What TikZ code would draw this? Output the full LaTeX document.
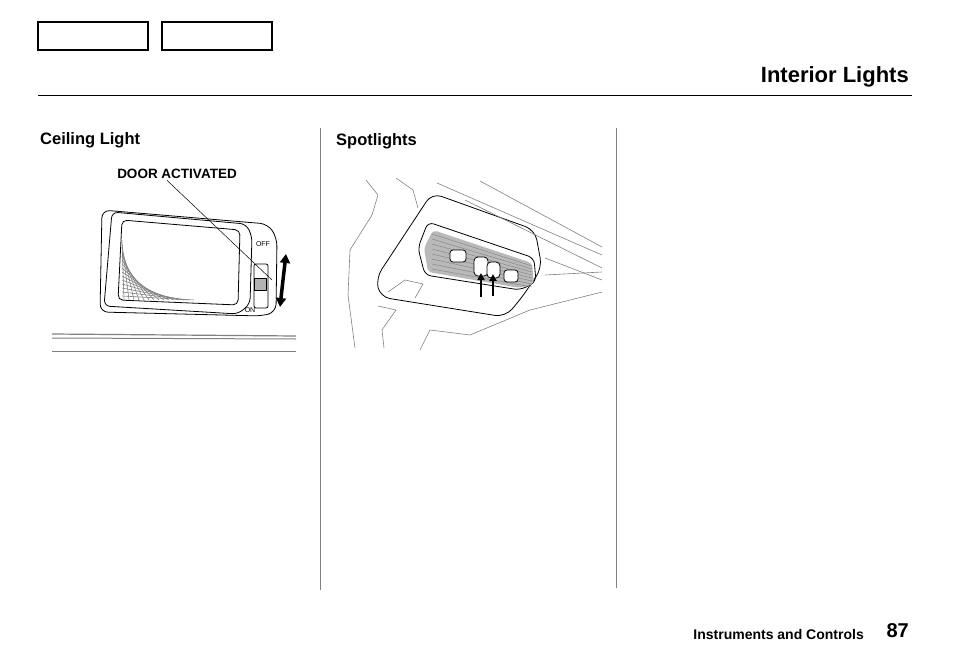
\documentclass[tikz,border=0pt]{standalone}
\usepackage{fontspec}
\setmainfont{Liberation Sans}
\usetikzlibrary{arrows.meta}
\tikzset{
  tab/.style={draw,line width=1.2pt,minimum width=110pt,minimum height=28pt,inner sep=0pt},
  head/.style={anchor=base west,inner sep=0pt,font=\bfseries\fontsize{16.5}{16.5}\selectfont},
  sketch/.style={line width=0.8pt,line join=round},
  faint/.style={gray,line width=0.6pt},
  arr/.style={-{Triangle[length=9pt,width=10pt]},line width=3.5pt}
}
\begin{document}
\begin{tikzpicture}[x=1pt,y=-1pt]
    \useasboundingbox (0,0) rectangle (954,672);
    % page frame
    \node[tab] (tabA) at (93,36) {};
    \node[tab] (tabB) at (217,36) {};
    \node[anchor=base east,inner sep=0pt,font=\bfseries\fontsize{22}{22}\selectfont] (title) at (909,82) {Interior Lights};
    \draw[line width=0.6pt] (38,95) -- (912,95);
    \draw[gray,line width=0.6pt] (320,128) -- (320,590);
    \draw[gray,line width=0.6pt] (616,128) -- (616,588);
    \node[head] (ceil) at (40,144) {Ceiling Light};
    \node[head] (spot) at (336,145) {Spotlights};
    \node[anchor=base east,inner sep=0pt,font=\bfseries\fontsize{14}{14}\selectfont] (sect) at (864,639) {Instruments and Controls};
    \node[anchor=base east,inner sep=0pt,font=\bfseries\fontsize{20}{20}\selectfont] (page) at (909,637) {87};

    % ceiling light
    \node[anchor=base,inner sep=0pt,font=\bfseries\fontsize{13.5}{13.5}\selectfont] (door) at (177,178) {DOOR ACTIVATED};
    \draw[sketch,rounded corners=8pt] (102,210) -- (268,224) -- (277,238) -- (276,312) -- (262,316) -- (100,312) -- cycle;
    \draw[sketch,rounded corners=6pt] (112,212) -- (246,224) -- (252,236) -- (250,304) -- (238,314) -- (104,306) -- cycle;
    \draw[sketch,rounded corners=5pt] (122,220) -- (240,230) -- (238,305) -- (118,300) -- cycle;
    \foreach \i in {0,...,14}
      \draw[faint] (122,240+4*\i) -- (124+5*\i,300);
    \draw[sketch,rounded corners=2pt] (254,264) rectangle (268,308);
    \draw[sketch,fill=gray!60] (254,278) rectangle (266,290);
    \node[font=\fontsize{7}{7}\selectfont] (off) at (263,244) {OFF};
    \node[font=\fontsize{7}{7}\selectfont] (on) at (250,310) {ON};
    \coordinate (lead) at (272,280);
    \draw[line width=0.5pt] (door.south) ++(-10,2) -- (lead);
    \coordinate (armid) at (283,280);
    \draw[arr] (armid) -- ++(3,-26);
    \draw[arr] (armid) -- ++(-3,27);
    \draw[faint,line width=1.2pt] (52,334) -- (296,336);
    \draw[faint,line width=1pt] (52,338) -- (296,339);
    \draw[faint] (52,351) -- (296,351);

    % spotlights
    \draw[sketch,rounded corners=10pt] (432,193) -- (535,230) -- (542,268) -- (520,300) -- (505,317) -- (380,297) -- (376,278) -- cycle;
    \draw[sketch,rounded corners=6pt] (428,222) -- (534,258) -- (536,282) -- (520,290) -- (425,275) -- (418,248) -- cycle;
    \fill[gray!55,rounded corners=4pt] (433,230) -- (532,263) -- (534,284) -- (520,288) -- (428,272) -- (424,248) -- cycle;
    \foreach \i in {0,...,7}
      \draw[gray,line width=0.4pt] (432,234+5*\i) -- (532,266+3*\i);
    \draw[sketch,fill=white,rounded corners=3pt] (450,250) rectangle (466,262);
    \draw[sketch,fill=white,rounded corners=4pt] (474,257) rectangle (488,276);
    \draw[sketch,fill=white,rounded corners=4pt] (487,262) rectangle (500,278);
    \draw[sketch,fill=white,rounded corners=3pt] (504,270) rectangle (518,282);
    \coordinate (sa) at (481,297);
    \coordinate (sb) at (493,296);
    \draw[arr,line width=2pt,-{Triangle[length=7pt,width=7pt]}] (sa) -- ++(0,-24);
    \draw[arr,line width=2pt,-{Triangle[length=7pt,width=7pt]}] (sb) -- ++(0,-22);
    % roof lines
    \draw[faint] (480,181) -- (602,247);
    \draw[faint] (437,183) -- (602,255);
    \draw[faint] (465,200) -- (602,268);
    \draw[faint] (366,180) -- (378,195) -- (372,215) -- (350,250) -- (348,295) -- (355,348);
    \draw[faint] (396,178) -- (413,190) -- (418,208);
    \draw[faint] (378,306) -- (396,310) -- (382,330) -- (384,348);
    \draw[faint] (388,292) -- (405,280) -- (423,284) -- (415,298);
    \draw[faint] (420,350) -- (430,330) -- (470,335) -- (530,310) -- (602,292);
    \draw[faint] (545,275) -- (602,272);
    \draw[faint] (545,258) -- (602,280);
\end{tikzpicture}
\end{document}
